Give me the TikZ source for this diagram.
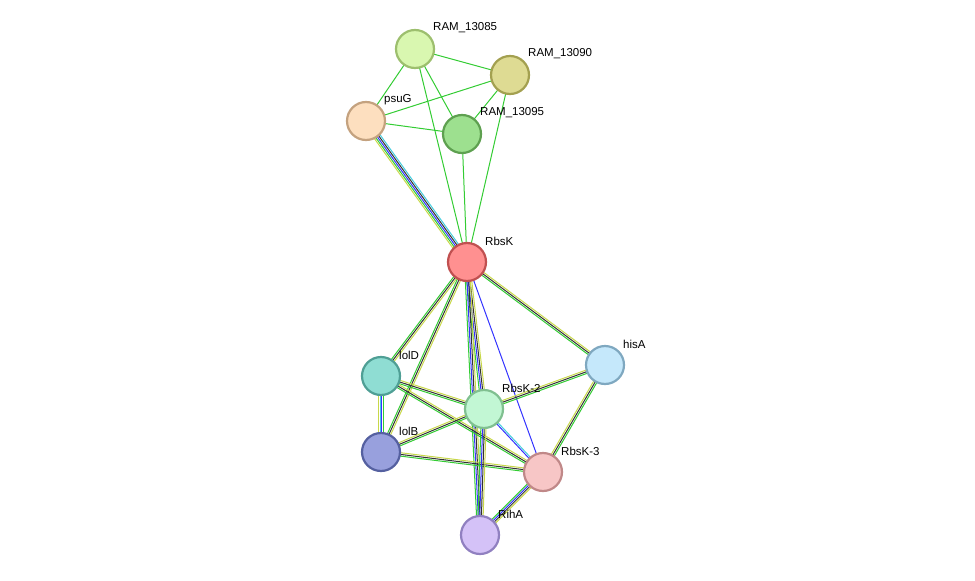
\documentclass[tikz,border=0pt]{standalone}
\usepackage{fontspec}
\setmainfont{Liberation Sans}
\usetikzlibrary{calc,backgrounds}
\definecolor{eg}{HTML}{33CC33}
\definecolor{ey}{HTML}{C8D84A}
\definecolor{eb}{HTML}{3333FF}
\definecolor{ek}{HTML}{333333}
\definecolor{ec}{HTML}{44CCDD}
\tikzset{
  prot/.style={circle,minimum size=38pt,inner sep=0pt,line width=2.2pt},
  plabel/.style={anchor=west,font=\fontsize{11.5}{13}\selectfont,inner sep=0pt},
}
\newcommand\medge[4]{%
  \foreach \c [count=\i] in {#4}{%
    \pgfmathsetmacro\off{(\i-(#3+1)/2)*1.7}%
    \draw[\c,line width=1pt] ($(#1)!\off pt!90:(#2)$) -- ($(#2)!\off pt!-90:(#1)$);
  }%
}
\begin{document}
\begin{tikzpicture}[x=1pt,y=-1pt]
\useasboundingbox (0,0) rectangle (975,581);
\node[prot,fill={rgb,255:red,217;green,247;blue,176},draw={rgb,255:red,157;green,191;blue,110}] (a) at (415,49) {};
\node[prot,fill={rgb,255:red,222;green,219;blue,147},draw={rgb,255:red,163;green,160;blue,80}] (b) at (510,75) {};
\node[prot,fill={rgb,255:red,253;green,223;blue,191},draw={rgb,255:red,196;green,162;blue,127}] (p) at (366,121) {};
\node[prot,fill={rgb,255:red,157;green,224;blue,143},draw={rgb,255:red,94;green,160;blue,80}] (c) at (462,134) {};
\node[prot,fill={rgb,255:red,255;green,144;blue,144},draw={rgb,255:red,192;green,80;blue,80}] (r) at (467,262) {};
\node[prot,fill={rgb,255:red,197;green,232;blue,251},draw={rgb,255:red,127;green,168;blue,192}] (h) at (605,365) {};
\node[prot,fill={rgb,255:red,143;green,221;blue,211},draw={rgb,255:red,79;green,159;blue,149}] (d) at (381,376) {};
\node[prot,fill={rgb,255:red,194;green,247;blue,212},draw={rgb,255:red,128;green,192;blue,144}] (r2) at (484,409) {};
\node[prot,fill={rgb,255:red,152;green,160;blue,221},draw={rgb,255:red,85;green,96;blue,160}] (l) at (381,452) {};
\node[prot,fill={rgb,255:red,247;green,198;blue,198},draw={rgb,255:red,192;green,136;blue,136}] (r3) at (543,472) {};
\node[prot,fill={rgb,255:red,212;green,194;blue,247},draw={rgb,255:red,144;green,128;blue,192}] (ri) at (480,535) {};
\foreach \n/\t in {a/RAM\_13085,b/RAM\_13090,p/psuG,c/RAM\_13095,r/RbsK,h/hisA,d/lolD,r2/RbsK-2,l/lolB,r3/RbsK-3,ri/RihA}{
  \node[plabel] (\n-lab) at ($(\n)+(18,-21)$) {\t};
}
\begin{scope}[on background layer]
\foreach \x/\y in {a/b,a/p,a/c,a/r,b/p,b/c,b/r,p/c,c/r}{
  \medge{\x}{\y}{1}{eg}
}
\medge{p}{r}{5}{ey,eg,eb,ek,ec}
\medge{r}{h}{3}{eg,ek,ey}
\medge{r}{d}{3}{eg,ek,ey}
\medge{r}{l}{3}{eg,ek,ey}
\medge{r}{r2}{4}{eg,eb,ek,ey}
\medge{r}{ri}{4}{eg,eb,ek,ey}
\medge{r}{r3}{1}{eb}
\medge{d}{l}{4}{ey,ec,eb,eg}
\medge{d}{r2}{3}{eg,ek,ey}
\medge{d}{r3}{3}{eg,ek,ey}
\medge{l}{r2}{3}{eg,ek,ey}
\medge{l}{r3}{3}{eg,ek,ey}
\medge{r2}{h}{3}{eg,ek,ey}
\medge{r3}{h}{3}{eg,ek,ey}
\medge{r2}{r3}{2}{eb,ec}
\medge{r2}{ri}{4}{eg,eb,ek,ey}
\medge{r3}{ri}{4}{eg,eb,ek,ey}
\end{scope}
\end{tikzpicture}
\end{document}
